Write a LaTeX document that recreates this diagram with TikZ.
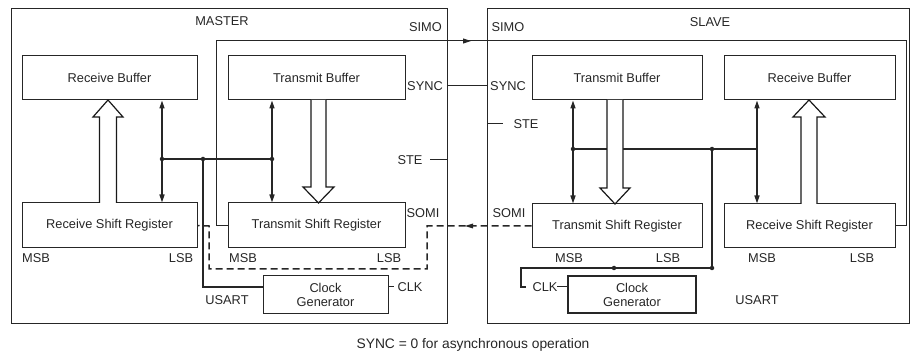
\documentclass[tikz,border=0pt]{standalone}
\usepackage{fontspec}
\setmainfont{Liberation Sans}
\usetikzlibrary{arrows.meta}
\begin{document}
\begin{tikzpicture}[x=1pt,y=-1pt,
  box/.style={draw=black!85, line width=1pt, inner sep=0pt, align=center, text=black!85, font=\fontsize{12.8}{14}\selectfont},
  lbl/.style={inner sep=0pt, text=black!85, font=\fontsize{12.8}{14}\selectfont},
  thin/.style={draw=black!85, line width=1pt},
  bus/.style={draw=black!85, line width=1.5pt},
  dbl/.style={draw=black!85, line width=1.5pt, {Triangle[length=8pt,width=5pt]}-{Triangle[length=8pt,width=5pt]}},
  jdot/.style={circle, fill=black!85, inner sep=0pt, minimum size=4.5pt},
  hollow/.style={draw=black!90, line width=1.2pt, fill=white},
  somi/.style={draw=black!85, line width=1.5pt, dash pattern=on 7pt off 4pt},
  tip/.style={-{Triangle[length=8pt,width=5pt]}}]
\useasboundingbox (0,0) rectangle (910,363);

% outer frames
\draw[thin] (11,9) rectangle (447,323);
\draw[thin] (487,9) rectangle (909,323);
\node[lbl] (master) at (222,21) {MASTER};
\node[lbl] (slave) at (710,22) {SLAVE};

% master blocks
\node[box, minimum width=175pt, minimum height=44pt] (mrb) at (109.5,78) {Receive Buffer};
\node[box, minimum width=177pt, minimum height=44pt] (mtb) at (316.5,78) {Transmit Buffer};
\node[box, minimum width=175pt, minimum height=45pt] (mrsr) at (109.5,225.5) {Receive Shift Register};
\node[box, minimum width=177pt, minimum height=45pt] (mtsr) at (316.5,225.5) {Transmit Shift Register};
\node[box, minimum width=125pt, minimum height=37pt, font=\fontsize{12.8}{14}\selectfont] (mcg) at (325.5,294.5) {Clock\\Generator};

% slave blocks
\node[box, minimum width=170pt, minimum height=44pt] (stb) at (617,78) {Transmit Buffer};
\node[box, minimum width=171pt, minimum height=44pt] (srb) at (809.5,78) {Receive Buffer};
\node[box, minimum width=170pt, minimum height=44pt] (stsr) at (617,226) {Transmit Shift Register};
\node[box, minimum width=171pt, minimum height=44pt] (srsr) at (809.5,226) {Receive Shift Register};
\node[box, line width=1.9pt, minimum width=128pt, minimum height=37pt, font=\fontsize{12.8}{14}\selectfont] (scg) at (632,294.5) {Clock\\Generator};

% MSB / LSB labels
\node[lbl] (m1) at (36,258) {MSB};
\node[lbl] (l1) at (181,258) {LSB};
\node[lbl] (m2) at (243,258) {MSB};
\node[lbl] (l2) at (389,258) {LSB};
\node[lbl] (m3) at (569,258) {MSB};
\node[lbl] (l3) at (668,258) {LSB};
\node[lbl] (m4) at (762,258) {MSB};
\node[lbl] (l4) at (862,258) {LSB};

% pin labels
\node[lbl] (simoM) at (425.5,27) {SIMO};
\node[lbl] (simoS) at (508,27) {SIMO};
\node[lbl] (syncM) at (425,86) {SYNC};
\node[lbl] (syncS) at (508,86) {SYNC};
\node[lbl] (steM) at (410,160) {STE};
\node[lbl] (steS) at (526,124) {STE};
\node[lbl] (somiM) at (423,213) {SOMI};
\node[lbl] (somiS) at (509,213) {SOMI};
\node[lbl] (clkM) at (410,287) {CLK};
\node[lbl] (clkS) at (545,287) {CLK};
\node[lbl] (usartM) at (227,300) {USART};
\node[lbl] (usartS) at (757,300) {USART};
\node[lbl, font=\fontsize{13.8}{16}\selectfont] (caption) at (473,345) {SYNC = 0 for asynchronous operation};

% pin stubs
\draw[thin] (430,160) -- (447,160);
\draw[thin] (487,124) -- (503,124);
\draw[thin] (447,86) -- (487,86);

% SIMO: master TSR -> slave RSR
\draw[thin] (mtsr.west) -- (216,225.5) -- (216,41) -- (906,41) -- (906,226) -- (srsr.east);
\draw[thin, tip] (455,41) -- (471,41);

% SOMI: slave TSR -> master RSR (dashed)
\draw[somi] (stsr.west) -- (427,226) -- (427,269) -- (209,269) -- (209,226) -- (mrsr.east);
\fill[black!85] (465,226) -- (473,223.5) -- (473,228.5) -- cycle;

% master bus
\draw[bus] (162,159) -- (272,159);
\draw[dbl] (mrb.south -| 162,0) -- (mrsr.north -| 162,0);
\draw[dbl] (mtb.south -| 272,0) -- (mtsr.north -| 272,0);
\draw[bus] (203,159) -- (203,287) -- (mcg.west |- 0,287);
\draw[thin] (mcg.east |- 0,287) -- (394,287);
\node[jdot] (d1) at (162,159) {};
\node[jdot] (d2) at (203,159) {};
\node[jdot] (d3) at (272,159) {};

% slave bus
\draw[bus] (573,149) -- (757,149);
\draw[dbl] (stb.south -| 573,0) -- (stsr.north -| 573,0);
\draw[dbl] (srb.south -| 757,0) -- (srsr.north -| 757,0);
\draw[bus] (712,149) -- (712,268) -- (521,268) -- (521,287) -- (526,287);
\draw[thin] (557,287) -- (scg.west |- 0,287);
\node[jdot] (d4) at (573,149) {};
\node[jdot] (d5) at (712,149) {};
\node[jdot] (d6) at (712,268) {};
\node[jdot] (d7) at (614,268) {};

% hollow data arrows
\draw[hollow] (99.5,203) -- (99.5,117) -- (93,117) -- (108,100) -- (123,117) -- (116.5,117) -- (116.5,203);
\draw[hollow] (311,100) -- (311,187) -- (303,187) -- (318.5,203) -- (334,187) -- (326,187) -- (326,100);
\draw[hollow] (607,100) -- (607,188) -- (600,188) -- (615,204) -- (630,188) -- (623,188) -- (623,100);
\draw[hollow] (801,204) -- (801,117) -- (793,117) -- (809,100) -- (825,117) -- (817,117) -- (817,204);
\end{tikzpicture}
\end{document}
